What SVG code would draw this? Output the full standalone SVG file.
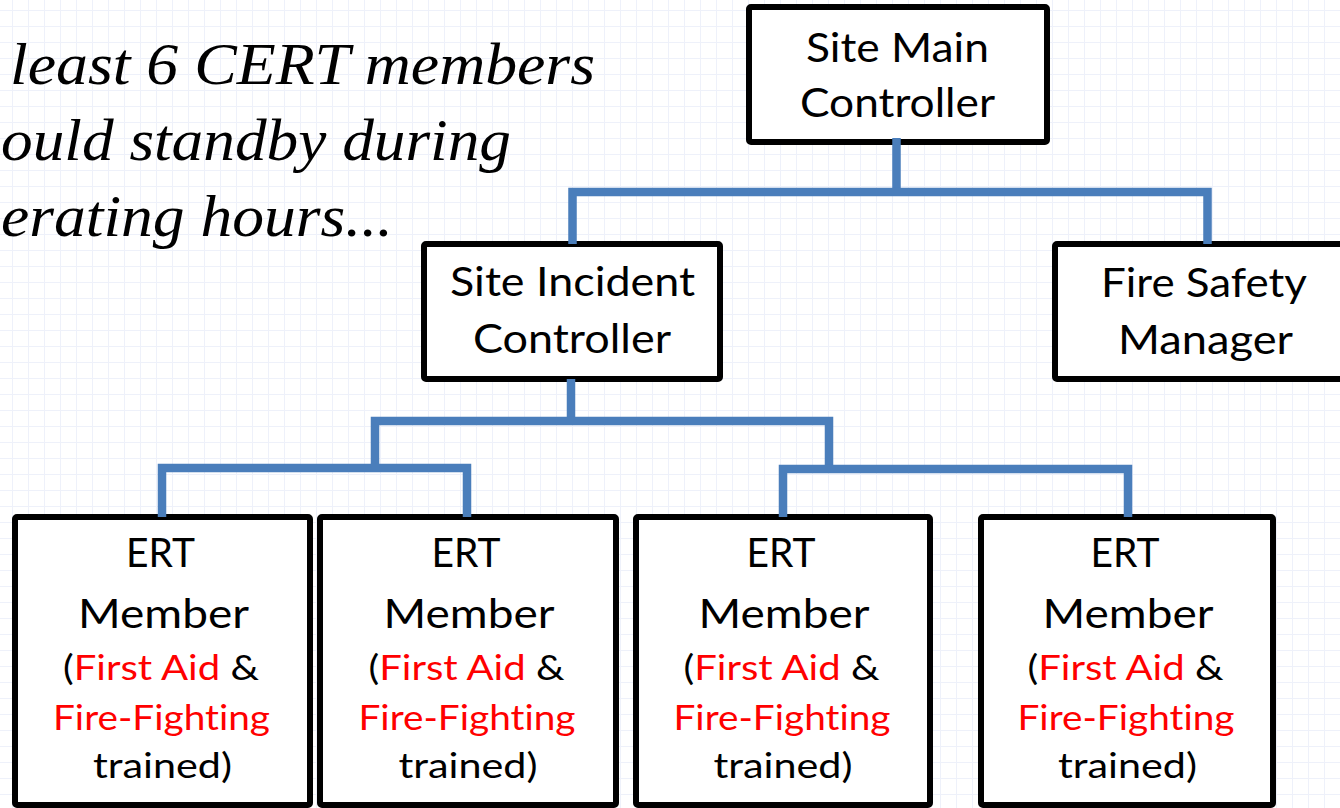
<svg xmlns="http://www.w3.org/2000/svg" width="1340" height="808" viewBox="0 0 1340 808">
<defs>
<pattern id="grid" x="12" y="10" width="16" height="16" patternUnits="userSpaceOnUse">
<path d="M0 0.5H16M0.5 0V16" stroke="#eef1fa" stroke-width="1" fill="none"/>
</pattern>
</defs>
<style>
text{font-variant-ligatures:none;font-feature-settings:"liga" 0,"clig" 0;}
.box{fill:#ffffff;stroke:#000000;stroke-width:6;}
.t{font-family:Lato,"Liberation Sans",sans-serif;font-size:41px;fill:#000000;text-anchor:middle;}
.s{font-family:Lato,"Liberation Sans",sans-serif;font-size:35px;fill:#000000;text-anchor:middle;}
.red{fill:#ff0000;}
.note{font-family:"Liberation Serif","Times New Roman",serif;font-style:italic;font-size:59px;fill:#000000;}
.conn{fill:none;stroke:#4a7ebb;stroke-width:8.5;stroke-linejoin:miter;}
</style>
<rect width="1340" height="808" fill="#ffffff"/>
<rect width="1340" height="808" fill="url(#grid)"/>

<g id="note">
<text class="note" x="10" y="84" textLength="585" lengthAdjust="spacingAndGlyphs">least 6 CERT members</text>
<text class="note" x="1" y="160" textLength="510" lengthAdjust="spacingAndGlyphs">ould standby during</text>
<text class="note" x="1" y="236" textLength="392" lengthAdjust="spacingAndGlyphs">erating hours...</text>
</g>

<g id="site-main-controller">
<rect class="box" x="749" y="7" width="298" height="135" rx="2"/>
<text class="t" x="897.5" y="62" textLength="183" lengthAdjust="spacingAndGlyphs">Site Main</text>
<text class="t" x="897.5" y="117" textLength="195" lengthAdjust="spacingAndGlyphs">Controller</text>
</g>

<g id="site-incident-controller">
<rect class="box" x="424" y="244" width="296" height="135" rx="2"/>
<text class="t" x="572.5" y="296" textLength="245" lengthAdjust="spacingAndGlyphs">Site Incident</text>
<text class="t" x="572" y="353" textLength="198" lengthAdjust="spacingAndGlyphs">Controller</text>
</g>

<g id="fire-safety-manager">
<rect class="box" x="1055" y="244" width="298" height="135" rx="2"/>
<text class="t" x="1204" y="297" textLength="206" lengthAdjust="spacingAndGlyphs">Fire Safety</text>
<text class="t" x="1205.5" y="354" textLength="175" lengthAdjust="spacingAndGlyphs">Manager</text>
</g>

<g id="ert-member-1">
<rect class="box" x="15" y="517" width="295" height="288" rx="2"/>
<text class="t" x="160.5" y="567" textLength="69" lengthAdjust="spacingAndGlyphs">ERT</text>
<text class="t" x="163.5" y="628" textLength="171" lengthAdjust="spacingAndGlyphs">Member</text>
<text class="s" x="161" y="680" textLength="196" lengthAdjust="spacingAndGlyphs">(<tspan class="red">First Aid</tspan> &amp;</text>
<text class="s red" x="161.5" y="730" textLength="217" lengthAdjust="spacingAndGlyphs">Fire-Fighting</text>
<text class="s" x="162.5" y="778" textLength="139" lengthAdjust="spacingAndGlyphs">trained)</text>
</g>

<g id="ert-member-2">
<rect class="box" x="320" y="517" width="296" height="288" rx="2"/>
<text class="t" x="466" y="567" textLength="69" lengthAdjust="spacingAndGlyphs">ERT</text>
<text class="t" x="469" y="628" textLength="171" lengthAdjust="spacingAndGlyphs">Member</text>
<text class="s" x="466.5" y="680" textLength="196" lengthAdjust="spacingAndGlyphs">(<tspan class="red">First Aid</tspan> &amp;</text>
<text class="s red" x="467" y="730" textLength="217" lengthAdjust="spacingAndGlyphs">Fire-Fighting</text>
<text class="s" x="468" y="778" textLength="139" lengthAdjust="spacingAndGlyphs">trained)</text>
</g>

<g id="ert-member-3">
<rect class="box" x="636" y="517" width="294" height="288" rx="2"/>
<text class="t" x="781" y="567" textLength="69" lengthAdjust="spacingAndGlyphs">ERT</text>
<text class="t" x="784" y="628" textLength="171" lengthAdjust="spacingAndGlyphs">Member</text>
<text class="s" x="781.5" y="680" textLength="196" lengthAdjust="spacingAndGlyphs">(<tspan class="red">First Aid</tspan> &amp;</text>
<text class="s red" x="782" y="730" textLength="217" lengthAdjust="spacingAndGlyphs">Fire-Fighting</text>
<text class="s" x="783" y="778" textLength="139" lengthAdjust="spacingAndGlyphs">trained)</text>
</g>

<g id="ert-member-4">
<rect class="box" x="981" y="517" width="292" height="288" rx="2"/>
<text class="t" x="1125" y="567" textLength="69" lengthAdjust="spacingAndGlyphs">ERT</text>
<text class="t" x="1128" y="628" textLength="171" lengthAdjust="spacingAndGlyphs">Member</text>
<text class="s" x="1125.5" y="680" textLength="196" lengthAdjust="spacingAndGlyphs">(<tspan class="red">First Aid</tspan> &amp;</text>
<text class="s red" x="1126" y="730" textLength="217" lengthAdjust="spacingAndGlyphs">Fire-Fighting</text>
<text class="s" x="1127.5" y="778" textLength="139" lengthAdjust="spacingAndGlyphs">trained)</text>
</g>

<g id="connectors">
<path class="conn" d="M896.5,138 V192"/>
<path class="conn" d="M572.5,244 V192 H1207.5 V244"/>
<path class="conn" d="M571,379 V421"/>
<path class="conn" d="M162,517 V468 H467 V517"/>
<path class="conn" d="M375,468 V421 H829 V469"/>
<path class="conn" d="M783,517 V469 H1128 V517"/>
</g>
</svg>
